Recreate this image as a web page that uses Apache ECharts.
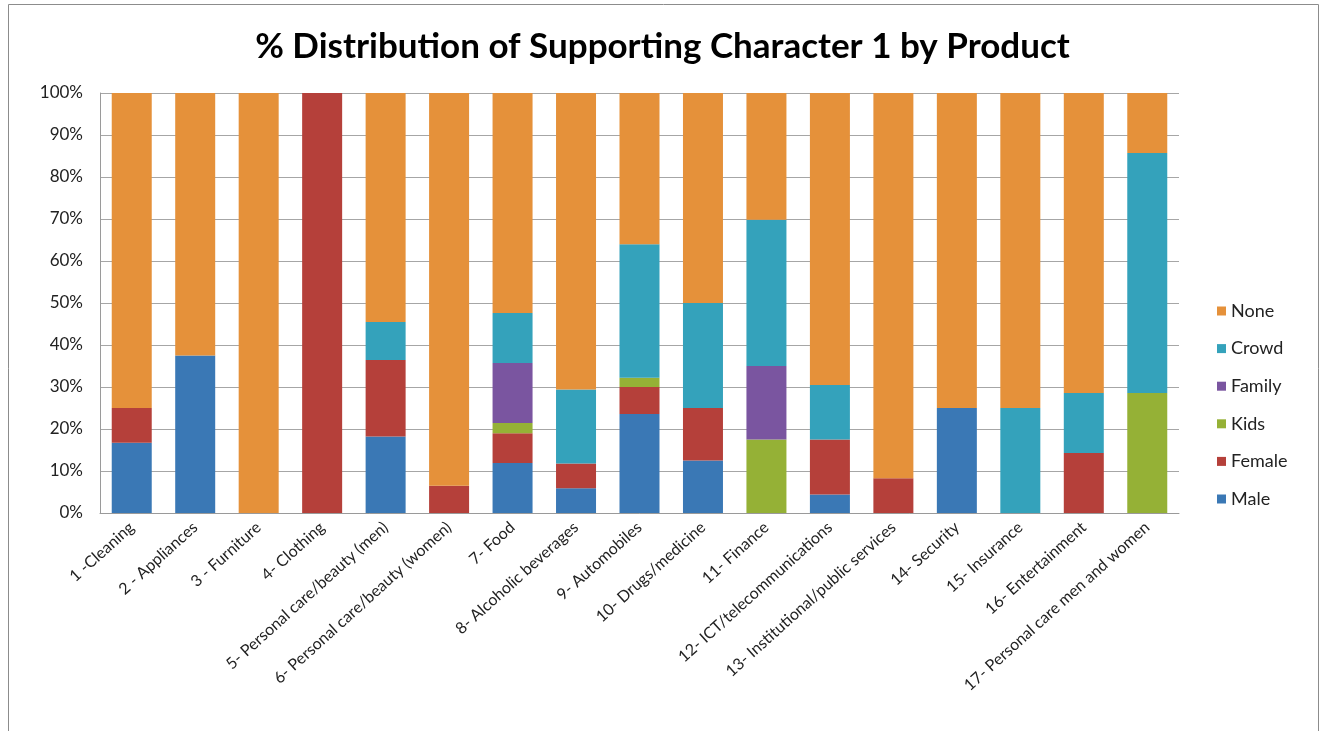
<!DOCTYPE html>
<html>
<head>
<meta charset="utf-8">
<script src="https://cdn.jsdelivr.net/npm/echarts@6/dist/echarts.min.js"></script>
<style>
html,body{margin:0;padding:0;background:#fff;}
#chart{width:1325px;height:731px;}
</style>
</head>
<body>
<div id="chart"></div>
<script>
const categories = [
  "1 -Cleaning", "2 - Appliances", "3 - Furniture", "4- Clothing",
  "5- Personal care/beauty (men)", "6- Personal care/beauty (women)", "7- Food",
  "8- Alcoholic beverages", "9- Automobiles", "10- Drugs/medicine", "11- Finance",
  "12- ICT/telecommunications", "13- Institutional/public services", "14- Security",
  "15- Insurance", "16- Entertainment", "17- Personal care men and women"
];
const male   = [16.7, 37.5, 0, 0, 18.2, 0, 11.9, 5.9, 23.6, 12.5, 0, 4.4, 0, 25, 0, 0, 0];
const female = [8.3, 0, 0, 100, 18.2, 6.5, 7.1, 5.9, 6.4, 12.5, 0, 13.1, 8.3, 0, 0, 14.3, 0];
const kids   = [0, 0, 0, 0, 0, 0, 2.4, 0, 2.2, 0, 17.5, 0, 0, 0, 0, 0, 28.6];
const family = [0, 0, 0, 0, 0, 0, 14.3, 0, 0, 0, 17.5, 0, 0, 0, 0, 0, 0];
const crowd  = [0, 0, 0, 0, 9.1, 0, 11.9, 17.6, 31.8, 25, 34.8, 13, 0, 0, 25, 14.3, 57.1];
const none   = [75, 62.5, 100, 0, 54.5, 93.5, 52.4, 70.6, 36, 50, 30.2, 69.5, 91.7, 75, 75, 71.4, 14.3];
const seriesNames = ["Male", "Female", "Kids", "Family", "Crowd", "None"];
const legendOrder = ["None", "Crowd", "Family", "Kids", "Female", "Male"];

const colors = {
  Male: "#3a78b5", Female: "#b5403a", Kids: "#95b136",
  Family: "#7a55a0", Crowd: "#34a2bb", None: "#e5913a"
};
const dataByName = { Male: male, Female: female, Kids: kids, Family: family, Crowd: crowd, None: none };

const chart = echarts.init(document.getElementById('chart'));
const font = "Lato, 'Liberation Sans', sans-serif";
chart.setOption({
  animation: false,
  textStyle: { fontFamily: font },
  title: {
    text: "% Distribution of Supporting Character 1 by Product",
    left: 'center', top: 24,
    textStyle: { fontFamily: font, fontSize: 35, fontWeight: 'bold', color: '#000' }
  },
  graphic: [{
    type: 'rect', silent: true,
    shape: { x: 8.5, y: 4.5, width: 1310, height: 800 },
    style: { fill: 'none', stroke: '#8c8c8c', lineWidth: 1 }
  }],
  legend: {
    data: legendOrder,
    orient: 'vertical',
    left: 1212, top: 297,
    itemWidth: 9, itemHeight: 9,
    itemGap: 19.6,
    icon: 'rect',
    textStyle: { fontFamily: font, fontSize: 18, color: '#222' }
  },
  grid: { left: 100, right: 146, top: 93, bottom: 218 },
  xAxis: {
    type: 'category',
    data: categories,
    axisLine: { lineStyle: { color: '#9a9a9a', width: 1 } },
    axisTick: { show: false },
    axisLabel: { rotate: 42, fontSize: 16, color: '#222', fontFamily: font, margin: 12, interval: 0 }
  },
  yAxis: {
    type: 'value',
    min: 0, max: 100, interval: 10,
    axisLine: { show: true, lineStyle: { color: '#9a9a9a', width: 1 } },
    axisTick: { show: false },
    splitLine: { lineStyle: { color: '#a6a6a6', width: 1 } },
    axisLabel: { formatter: '{value}%', fontSize: 17, color: '#222', fontFamily: font, margin: 17 }
  },
  series: seriesNames.map(n => ({
    name: n,
    type: 'bar',
    stack: 'total',
    barWidth: 40,
    itemStyle: { color: colors[n] },
    data: dataByName[n]
  }))
});
</script>
</body>
</html>
